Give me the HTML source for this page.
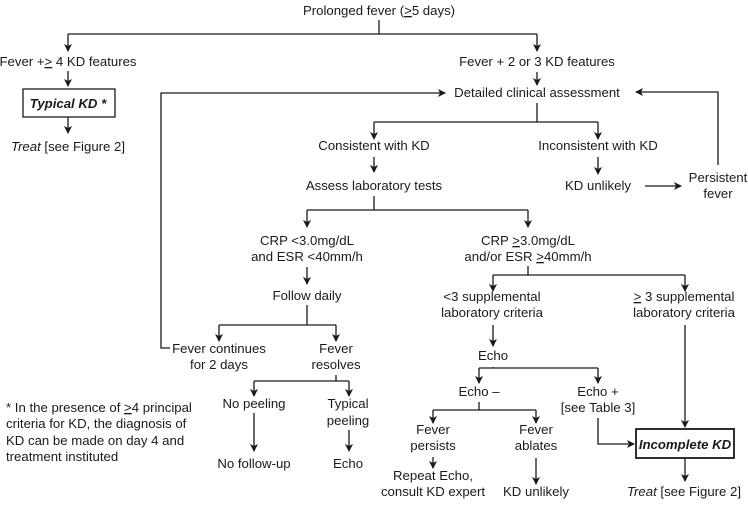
<!DOCTYPE html>
<html><head><meta charset="utf-8"><style>
html,body{margin:0;padding:0;background:#fff;}
svg{display:block;}
text{font-family:"Liberation Sans",Arial,sans-serif;font-size:13.2px;fill:#1a1a1a;}
</style></head><body>
<svg width="748" height="505" viewBox="0 0 748 505" xmlns="http://www.w3.org/2000/svg">
<defs>
<marker id="a" markerWidth="8" markerHeight="10" refX="7" refY="4" orient="auto" markerUnits="userSpaceOnUse">
<path d="M0,0 L8,4 L0,8 L2,4 Z" fill="#1a1a1a"/>
</marker>
</defs>
<g stroke="#1a1a1a" stroke-width="1.3" fill="none">
<path d="M379,20 V34"/>
<path d="M68,34 H537"/>
<path d="M68,34 V51" marker-end="url(#a)"/>
<path d="M537,34 V51" marker-end="url(#a)"/>
<path d="M68,71 V86" marker-end="url(#a)"/>
<rect x="23" y="89" width="92" height="28"/>
<path d="M68,117 V133" marker-end="url(#a)"/>
<path d="M537,72 V85" marker-end="url(#a)"/>
<path d="M170,348 H161 V93 H445" marker-end="url(#a)"/>
<path d="M718,165 V92 H636" marker-end="url(#a)"/>
<path d="M537,103 V122"/>
<path d="M374,122 H598"/>
<path d="M374,122 V139" marker-end="url(#a)"/>
<path d="M598,122 V139" marker-end="url(#a)"/>
<path d="M374,157 V172" marker-end="url(#a)"/>
<path d="M598,157 V174" marker-end="url(#a)"/>
<path d="M645,186 H681" marker-end="url(#a)"/>
<path d="M374,196 V210"/>
<path d="M307,210 H528"/>
<path d="M307,210 V227" marker-end="url(#a)"/>
<path d="M528,210 V227" marker-end="url(#a)"/>
<path d="M307,267 V284" marker-end="url(#a)"/>
<path d="M307,305 V325"/>
<path d="M219,325 H336"/>
<path d="M219,325 V341" marker-end="url(#a)"/>
<path d="M336,325 V341" marker-end="url(#a)"/>
<path d="M336,375 V381"/>
<path d="M254,381 H349"/>
<path d="M254,381 V396" marker-end="url(#a)"/>
<path d="M349,381 V396" marker-end="url(#a)"/>
<path d="M254,413 V451" marker-end="url(#a)"/>
<path d="M349,430 V451" marker-end="url(#a)"/>
<path d="M528,266 V275"/>
<path d="M493,275 H685"/>
<path d="M493,275 V291" marker-end="url(#a)"/>
<path d="M685,275 V291" marker-end="url(#a)"/>
<path d="M493,325 V346" marker-end="url(#a)"/>
<path d="M493,367 V368"/>
<path d="M479,368 H598"/>
<path d="M479,368 V383" marker-end="url(#a)"/>
<path d="M598,368 V383" marker-end="url(#a)"/>
<path d="M479,402 V410"/>
<path d="M433,410 H536"/>
<path d="M433,410 V423" marker-end="url(#a)"/>
<path d="M536,410 V423" marker-end="url(#a)"/>
<path d="M433,457 V468" marker-end="url(#a)"/>
<path d="M536,458 V484" marker-end="url(#a)"/>
<path d="M598,418 V444 H634" marker-end="url(#a)"/>
<path d="M685,325 V427" marker-end="url(#a)"/>
<rect x="636" y="429" width="98" height="29" stroke-width="1.8"/>
<path d="M685,458 V481" marker-end="url(#a)"/>
</g>
<g text-anchor="middle">
<text x="379" y="15">Prolonged fever (<tspan text-decoration="underline">&gt;</tspan>5 days)</text>
<text x="68" y="66">Fever +<tspan text-decoration="underline">&gt;</tspan> 4 KD features</text>
<text x="68" y="108" font-weight="bold" font-style="italic">Typical KD *</text>
<text x="68" y="151"><tspan font-style="italic">Treat</tspan> [see Figure 2]</text>
<text x="537" y="66">Fever + 2 or 3 KD features</text>
<text x="537" y="97">Detailed clinical assessment</text>
<text x="374" y="150">Consistent with KD</text>
<text x="598" y="150">Inconsistent with KD</text>
<text x="374" y="190">Assess laboratory tests</text>
<text x="598" y="190">KD unlikely</text>
<text x="718" y="182">Persistent</text>
<text x="718" y="198">fever</text>
<text x="307" y="245">CRP &lt;3.0mg/dL</text>
<text x="307" y="261">and ESR &lt;40mm/h</text>
<text x="307" y="300">Follow daily</text>
<text x="219" y="353">Fever continues</text>
<text x="219" y="369">for 2 days</text>
<text x="336" y="353">Fever</text>
<text x="336" y="369">resolves</text>
<text x="254" y="408">No peeling</text>
<text x="348" y="408">Typical</text>
<text x="348" y="425">peeling</text>
<text x="254" y="468">No follow-up</text>
<text x="348" y="468">Echo</text>
<text x="528" y="245">CRP <tspan text-decoration="underline">&gt;</tspan>3.0mg/dL</text>
<text x="528" y="261">and/or ESR <tspan text-decoration="underline">&gt;</tspan>40mm/h</text>
<text x="492" y="301">&lt;3 supplemental</text>
<text x="492" y="317">laboratory criteria</text>
<text x="684" y="301"><tspan text-decoration="underline">&gt;</tspan> 3 supplemental</text>
<text x="684" y="317">laboratory criteria</text>
<text x="493" y="360">Echo</text>
<text x="479" y="396">Echo –</text>
<text x="598" y="396">Echo +</text>
<text x="598" y="412">[see Table 3]</text>
<text x="433" y="434">Fever</text>
<text x="433" y="450">persists</text>
<text x="536" y="434">Fever</text>
<text x="536" y="450">ablates</text>
<text x="433" y="480">Repeat Echo,</text>
<text x="433" y="496">consult KD expert</text>
<text x="536" y="496">KD unlikely</text>
<text x="685" y="449" font-weight="bold" font-style="italic">Incomplete KD</text>
<text x="684" y="496"><tspan font-style="italic">Treat</tspan> [see Figure 2]</text>
</g>
<g>
<text x="6" y="412">* In the presence of <tspan text-decoration="underline">&gt;</tspan>4 principal</text>
<text x="6" y="428">criteria for KD, the diagnosis of</text>
<text x="6" y="445">KD can be made on day 4 and</text>
<text x="6" y="461">treatment instituted</text>
</g>
</svg>
</body></html>
